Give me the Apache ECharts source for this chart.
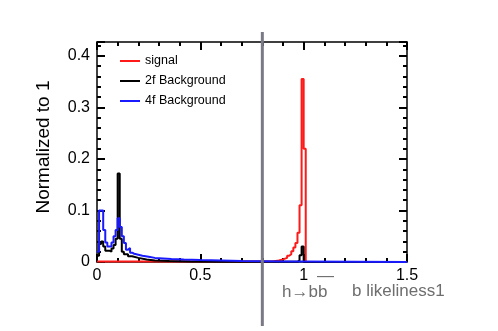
<!DOCTYPE html>
<html>
<head>
<meta charset="utf-8">
<script src="https://cdn.jsdelivr.net/npm/echarts@6/dist/echarts.min.js"></script>
<style>html,body{margin:0;padding:0;background:#fff;}#c{width:498px;height:331px;}</style>
</head>
<body>
<div id="c"></div>
<script>
// Histogram step data: left bin edges (x) and bin heights (y)
var signalX = [0, 0.85, 0.88, 0.90, 0.92, 0.93, 0.94, 0.95, 0.96, 0.97, 0.98, 0.99, 1.00, 1.01, 1.5];
var signalY = [0.001, 0.003, 0.005, 0.008, 0.012, 0.015, 0.021, 0.028, 0.037, 0.057, 0.11, 0.355, 0.22, 0, 0];

var bg2fX = [0, 0.01, 0.02, 0.03, 0.04, 0.06, 0.07, 0.08, 0.09, 0.10, 0.11, 0.12, 0.13, 0.15, 0.17, 0.20, 0.24, 0.28, 0.35, 0.45, 0.6, 0.97, 0.98, 0.99, 1.00, 1.5];
var bg2fY = [0.012, 0.035, 0.04, 0.03, 0.022, 0.02, 0.026, 0.033, 0.045, 0.172, 0.045, 0.02, 0.015, 0.011, 0.008, 0.005, 0.003, 0.002, 0.001, 0.0005, 0.0003, 0.003, 0.013, 0.03, 0, 0];

var bg4fX = [0, 0.01, 0.03, 0.04, 0.05, 0.07, 0.08, 0.09, 0.10, 0.11, 0.12, 0.13, 0.14, 0.15, 0.16, 0.17, 0.18, 0.20, 0.22, 0.25, 0.28, 0.32, 0.36, 0.42, 0.5, 0.6, 0.7, 0.8, 0.9, 1.0, 1.5];
var bg4fY = [0.02, 0.1, 0.062, 0.038, 0.03, 0.038, 0.05, 0.062, 0.085, 0.068, 0.05, 0.037, 0.024, 0.027, 0.018, 0.016, 0.014, 0.012, 0.01, 0.008, 0.007, 0.006, 0.005, 0.004, 0.003, 0.002, 0.0015, 0.001, 0.0008, 0, 0];

var seriesNames = ['signal', '2f Background', '4f Background'];
var xTicks = { min: 0, max: 1.5, interval: 0.5 };
var yTicks = { min: 0, max: 0.427, interval: 0.1 };
var cutValue = 0.8;

function pairs(xs, ys) { return xs.map(function (x, i) { return [x, ys[i]]; }); }

var FONT = "'Liberation Sans', Arial, sans-serif";
var chart = echarts.init(document.getElementById('c'), null, { renderer: 'canvas' });
var lab = function (v) { return String(+v.toFixed(2)); };

function axisCommon(t, pos, showLabel, isY) {
  return {
    type: 'value', position: pos, min: t.min, max: t.max, interval: t.interval,
    axisLine: { show: true, onZero: false, lineStyle: { color: '#000', width: 1.5 } },
    axisTick: { show: true, inside: true, length: 8, lineStyle: { color: '#000', width: 2 } },
    minorTick: { show: true, splitNumber: 5, length: 4, lineStyle: { color: '#000', width: 2 } },
    splitLine: { show: false },
    axisLabel: { show: showLabel, showMaxLabel: isY ? false : true, color: '#000', fontSize: 16,
      fontFamily: FONT, margin: isY ? 7 : 6, formatter: lab }
  };
}
function stepSeries(name, xs, ys, color) {
  return {
    name: name, type: 'line', step: 'end', data: pairs(xs, ys), xAxisIndex: 0, yAxisIndex: 0,
    showSymbol: false, symbol: 'none', clip: false, animation: false,
    lineStyle: { color: color, width: 2 }, itemStyle: { color: color }
  };
}

chart.setOption({
  animation: false,
  backgroundColor: '#fff',
  grid: { left: 97, right: 91, top: 42, bottom: 69, containLabel: false },
  xAxis: [axisCommon(xTicks, 'bottom', true, false), axisCommon(xTicks, 'top', false, false)],
  yAxis: [axisCommon(yTicks, 'left', true, true), axisCommon(yTicks, 'right', false, true)],
  legend: {
    show: true, orient: 'vertical', left: 115, top: 49, itemWidth: 20, itemHeight: 2, itemGap: 6,
    icon: 'rect', data: seriesNames,
    textStyle: { color: '#000', fontSize: 12.5, fontFamily: FONT, lineHeight: 14 }
  },
  series: [
    stepSeries(seriesNames[0], signalX, signalY, '#ff1a1a'),
    stepSeries(seriesNames[1], bg2fX, bg2fY, '#000000'),
    stepSeries(seriesNames[2], bg4fX, bg4fY, '#1a1aff')
  ],
  graphic: [
    { type: 'text', id: 'yname', x: 44, y: 147, rotation: Math.PI / 2,
      style: { text: 'Normalized to 1', fill: '#000', font: '19px ' + FONT, textAlign: 'center', textVerticalAlign: 'middle' } },
    { type: 'text', id: 'xn1', x: 282, y: 292,
      style: { text: 'h\u2192bb', fill: '#6e6e6e', font: '17px ' + FONT, textAlign: 'left', textVerticalAlign: 'middle' } },
    { type: 'text', id: 'xn2', x: 317, y: 276,
      style: { text: '\u2014', fill: '#6e6e6e', font: '17px ' + FONT, textAlign: 'left', textVerticalAlign: 'middle' } },
    { type: 'text', id: 'xn3', x: 352, y: 291,
      style: { text: 'b likeliness1', fill: '#6e6e6e', font: '17px ' + FONT, textAlign: 'left', textVerticalAlign: 'middle' } }
  ]
});

var cx = chart.convertToPixel({ xAxisIndex: 0 }, cutValue);
chart.setOption({
  graphic: [
    { type: 'line', id: 'cut', z: 100, shape: { x1: cx, y1: 32, x2: cx, y2: 326 },
      style: { stroke: '#7a7a86', lineWidth: 3 } }
  ]
});
</script>
</body>
</html>
